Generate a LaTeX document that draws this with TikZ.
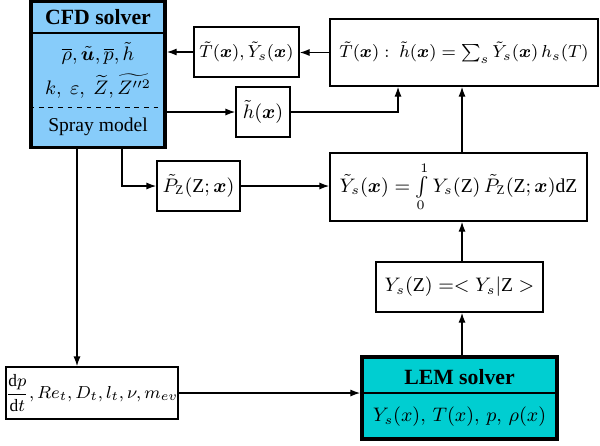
\documentclass[tikz,border=0pt]{standalone}
\usepackage{amsmath}
\usepackage{bm}
\usepackage{fontspec}
\setmainfont{Liberation Serif}
\usetikzlibrary{arrows.meta,calc}
\newdimen\pxu \pxu=0.46pt
\definecolor{cfdblue}{RGB}{135,204,250}
\definecolor{lemcyan}{RGB}{0,206,209}
\begin{document}
\begin{tikzpicture}[x=0.46pt,y=-0.46pt,
  box/.style={draw, line width=0.65pt, fill=white, inner sep=0pt, align=center, font=\fontsize{9}{11}\selectfont},
  small/.style={font=\fontsize{8.5}{10}\selectfont},
  solver/.style={draw, line width=1.6pt, inner sep=0pt},
  txt/.style={inner sep=0pt, align=center},
  arr/.style={-{Latex[length=4.6pt,width=3.3pt]}, line width=0.65pt}]
\useasboundingbox (0,0) rectangle (600,445);
% CFD solver
\node[solver, fill=cfdblue, minimum width=134\pxu, minimum height=146\pxu] (cfd) at (98,74.5) {};
\node[txt] (cfdt) at (98,17) {\textbf{CFD solver}};
\draw[line width=0.5pt] (cfd.west |- 0,33) -- (cfd.east |- 0,33);
\node[txt, font=\fontsize{9.2}{11}\selectfont] (cfdv1) at (98,53) {$\overline{\rho},\tilde{\bm{u}},\overline{p},\tilde{h}$};
\node[txt, font=\fontsize{9.2}{11}\selectfont] (cfdv2) at (98,86) {$k,\ \varepsilon,\ \widetilde{Z},\widetilde{Z''^2}$};
\draw[dash pattern=on 2.2pt off 2.2pt, line width=0.45pt] (cfd.west |- 0,107) -- (cfd.east |- 0,107);
\node[txt, font=\fontsize{9}{11}\selectfont] (spray) at (98,127) {Spray model};
% LEM solver
\node[solver, fill=lemcyan, minimum width=195\pxu, minimum height=82\pxu] (lem) at (459.5,398) {};
\node[txt] (lemt) at (459.5,377) {\textbf{LEM solver}};
\draw[line width=0.5pt] (lem.west |- 0,393) -- (lem.east |- 0,393);
\node[txt, font=\fontsize{9}{11}\selectfont] (lemv) at (459.5,417) {$Y_s(x),\,T(x),\,p,\,\rho(x)$};
% other boxes
\node[box, small, minimum width=105\pxu, minimum height=50\pxu] (TY) at (246.5,52) {$\tilde{T}(\bm{x}),\tilde{Y}_s(\bm{x})$};
\node[box, small, minimum width=268\pxu, minimum height=67\pxu] (Tbig) at (464,52.5) {$\tilde{T}(\bm{x}):\ \tilde{h}(\bm{x})=\sum_s\tilde{Y}_s(\bm{x})\,h_s(T)$};
\node[box, minimum width=54\pxu, minimum height=50\pxu] (h) at (263,112) {$\tilde{h}(\bm{x})$};
\node[box, minimum width=83\pxu, minimum height=50\pxu] (P) at (198.5,186) {$\tilde{P}_{\mathrm{Z}}(\mathrm{Z};\bm{x})$};
\node[box, minimum width=257\pxu, minimum height=68\pxu] (Int) at (458.5,187) {$\tilde{Y}_s(\bm{x})=\textstyle\int\limits_0^1 Y_s(\mathrm{Z})\,\tilde{P}_{\mathrm{Z}}(\mathrm{Z};\bm{x})\mathrm{dZ}$};
\node[box, minimum width=167\pxu, minimum height=50\pxu] (YZ) at (459.5,287) {$Y_s(\mathrm{Z})=<Y_s|\mathrm{Z}>$};
\node[box, font=\fontsize{8}{10}\selectfont, minimum width=168\pxu, minimum height=52\pxu] (dp) at (92,393) {$\dfrac{\mathrm{d}p}{\mathrm{d}t},Re_t,D_t,l_t,\nu,m_{ev}$};
% helper columns
\coordinate (mid) at (462,0);
\coordinate (hx) at (398,0);
\coordinate (c1) at (77,0);
\coordinate (c2) at (122,0);
% connectors
\draw[arr] (Tbig.west) -- (Tbig.west -| TY.east);
\draw[arr] (TY.west) -- (TY.west -| cfd.east);
\draw[arr] (cfd.east |- h.west) -- (h.west);
\draw[arr] (h.east) -| (hx |- Tbig.south);
\draw[arr] (Int.north -| mid) -- (Tbig.south -| mid);
\draw[arr] (YZ.north -| mid) -- (Int.south -| mid);
\draw[arr] (lem.north -| mid) -- (YZ.south -| mid);
\draw[arr] (cfd.south -| c1) -- (dp.north -| c1);
\draw[arr] (cfd.south -| c2) |- (P.west);
\draw[arr] (P.east) -- (P.east -| Int.west);
\draw[arr] (dp.east) -- (dp.east -| lem.west);
\end{tikzpicture}
\end{document}
